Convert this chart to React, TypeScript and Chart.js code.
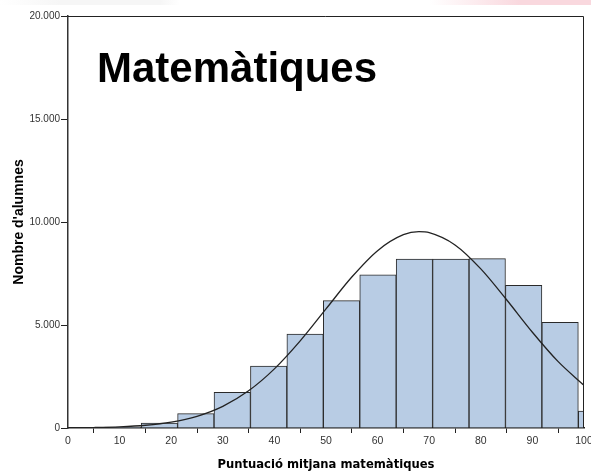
import React, { useEffect, useRef } from "react";
import { Chart, registerables } from "chart.js";

Chart.register(...registerables);

// Histogram bins (score ranges)
const binStart = 0.06;
const binWidth = 7.06;
const binCounts = [0, 50, 240, 700, 1730, 3000, 4560, 6180, 7440, 8200, 8200, 8220, 6930, 5130, 825];

// Normal curve readings
const curveX = [0, 5, 10, 15, 20, 25, 30, 35, 40, 45, 50, 55, 60, 65, 68, 70, 75, 80, 85, 90, 95, 100];
const curveY = [8, 23, 57, 133, 286, 570, 1053, 1805, 2870, 4228, 5780, 7328, 8610, 9383, 9530, 9483, 8888, 7725, 6225, 4650, 3221, 2072];

const xTicks = [0, 10, 20, 30, 40, 50, 60, 70, 80, 90, 100];
const yTicks = [0, 5000, 10000, 15000, 20000];

const chartTitle = "Matemàtiques";
const xTitle = "Puntuació mitjana matemàtiques";
const yTitle = "Nombre d'alumnes";

const fmt = (v: number) => (v === 0 ? "0" : v.toLocaleString("de-DE"));

export default function App() {
  const ref = useRef<HTMLCanvasElement | null>(null);

  useEffect(() => {
    document.body.style.margin = "0";
    const canvas = ref.current!;
    const barData = binCounts.map((c, i) => ({ x: binStart + binWidth * (i + 0.5), y: c }));
    const lineData = curveX.map((x, i) => ({ x, y: curveY[i] }));

    const framePlugin = {
      id: "frame",
      afterDatasetsDraw(chart: any) {
        const { ctx, chartArea: a } = chart;
        ctx.save();
        ctx.strokeStyle = "#222";
        ctx.lineWidth = 1;
        ctx.beginPath();
        ctx.moveTo(a.left, a.top + 0.5);
        ctx.lineTo(a.right - 0.5, a.top + 0.5);
        ctx.lineTo(a.right - 0.5, a.bottom);
        ctx.stroke();
        ctx.fillStyle = "#000";
        ctx.font = "bold 42px 'Liberation Sans', Arial, sans-serif";
        ctx.textBaseline = "alphabetic";
        ctx.textAlign = "left";
        ctx.fillText(chartTitle, a.left + 29, a.top + 66);
        ctx.restore();
      },
    };

    const chart = new Chart(canvas, {
      type: "bar",
      data: {
        datasets: [
          {
            type: "line",
            data: lineData,
            borderColor: "#222",
            borderWidth: 1.3,
            pointRadius: 0,
            cubicInterpolationMode: "monotone",
            fill: false,
            clip: 0,
            order: 0,
          } as any,
          {
            type: "bar",
            data: barData,
            backgroundColor: "#b8cce4",
            borderColor: "#2a2a2a",
            borderWidth: 1,
            barPercentage: 1,
            categoryPercentage: 1,
            grouped: false,
            clip: 0,
            order: 1,
          } as any,
        ],
      },
      options: {
        animation: false,
        responsive: false,
        maintainAspectRatio: false,
        layout: { padding: { top: 16, right: 7, left: 0, bottom: 0 } },
        plugins: { legend: { display: false }, tooltip: { enabled: false }, title: { display: false } },
        scales: {
          x: {
            type: "linear",
            min: 0,
            max: 100,
            offset: false,
            afterBuildTicks: (s: any) => {
              s.ticks = xTicks.map((v) => ({ value: v }));
            },
            afterFit: (s: any) => {
              s.height = 45;
              s.paddingLeft = 0;
              s.paddingRight = 0;
            },
            grid: { drawOnChartArea: false, tickLength: 5, color: "#222", tickWidth: 1 },
            border: { display: true, color: "#222", width: 1.5 },
            ticks: {
              padding: 2,
              maxRotation: 0,
              autoSkip: false,
              color: "#333",
              font: { family: "'Liberation Sans', Arial, sans-serif", size: 10.5 },
              callback: (v: any) => String(v),
            },
            title: {
              display: true,
              text: xTitle,
              color: "#000",
              padding: { top: 0, bottom: 1 },
              font: { family: "'DejaVu Sans', sans-serif", size: 11.6, weight: "bold" },
            },
          },
          y: {
            type: "linear",
            min: 0,
            max: 20000,
            afterBuildTicks: (s: any) => {
              s.ticks = yTicks.map((v) => ({ value: v }));
            },
            afterFit: (s: any) => {
              s.width = 68;
              s.paddingTop = 0;
              s.paddingBottom = 0;
            },
            grid: { drawOnChartArea: false, tickLength: 7, color: "#222", tickWidth: 1 },
            border: { display: true, color: "#333", width: 1.5 },
            ticks: {
              padding: 1,
              autoSkip: false,
              color: "#333",
              font: { family: "'Liberation Sans', Arial, sans-serif", size: 10 },
              callback: (v: any) => fmt(Number(v)),
            },
            title: {
              display: true,
              text: yTitle,
              color: "#000",
              padding: { top: 11, bottom: 0 },
              font: { family: "'Liberation Sans', Arial, sans-serif", size: 14, weight: "bold" },
            },
          },
        },
      },
      plugins: [framePlugin],
    });
    return () => chart.destroy();
  }, []);

  return (
    <div
      style={{
        position: "relative",
        width: 591,
        height: 473,
        background:
          "linear-gradient(to right, rgba(255,255,255,0) 0px, rgba(240,240,240,0.6) 60px, rgba(240,240,240,0.6) 160px, rgba(255,255,255,0) 180px) top left / 591px 5px no-repeat, linear-gradient(to right, rgba(255,255,255,0) 430px, rgba(245,190,200,0.6) 520px, rgba(245,190,200,0.6) 591px) top left / 591px 5px no-repeat, #fff",
      }}
    >
      <canvas ref={ref} width={591} height={473} style={{ display: "block" }} />
    </div>
  );
}
